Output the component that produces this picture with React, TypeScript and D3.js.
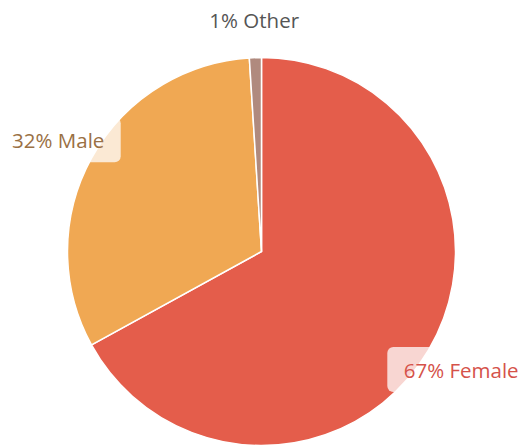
import React from "react";
import * as d3 from "d3";

const categories = ["Female", "Male", "Other"];
const values = [67, 32, 1];
const colors = ["#e45d4b", "#f0a853", "#b08a7e"];
const labelColors = ["#d5524a", "#9a7044", "#555555"];
const boxed = [true, true, false];

const W = 522;
const H = 445;
const cx = 261.5;
const cy = 251.5;
const R = 194;
const labelR = 232;

export default function App() {
  const pie = d3.pie<number>().sort(null).value((d) => d)(values);
  const arc = d3.arc<d3.PieArcDatum<number>>().innerRadius(0).outerRadius(R);
  const fontSize = 20.5;
  const font = "'Open Sans', sans-serif";
  return (
    <svg width={W} height={H} style={{ position: "absolute", left: 0, top: 0 }}>
      <g transform={`translate(${cx},${cy})`}>
        {pie.map((p, i) => (
          <path key={i} d={arc(p) || ""} fill={colors[i]} stroke="#ffffff" strokeWidth={1.5} />
        ))}
        {pie.map((p, i) => {
          const mid = (p.startAngle + p.endAngle) / 2;
          const x = labelR * Math.sin(mid);
          const y = -labelR * Math.cos(mid);
          const text = `${values[i]}% ${categories[i]}`;
          const tw = text.length * fontSize * 0.555;
          return (
            <g key={`l${i}`} transform={`translate(${x},${y})`}>
              {boxed[i] && (
                <rect
                  x={-tw / 2 - 17}
                  y={-22.5}
                  width={tw + 34}
                  height={45}
                  rx={6}
                  fill="#ffffff"
                  fillOpacity={0.75}
                />
              )}
              <text
                textAnchor="middle"
                dominantBaseline="central"
                fontFamily={font}
                fontSize={fontSize}
                fill={labelColors[i]}
              >
                {text}
              </text>
            </g>
          );
        })}
      </g>
    </svg>
  );
}
